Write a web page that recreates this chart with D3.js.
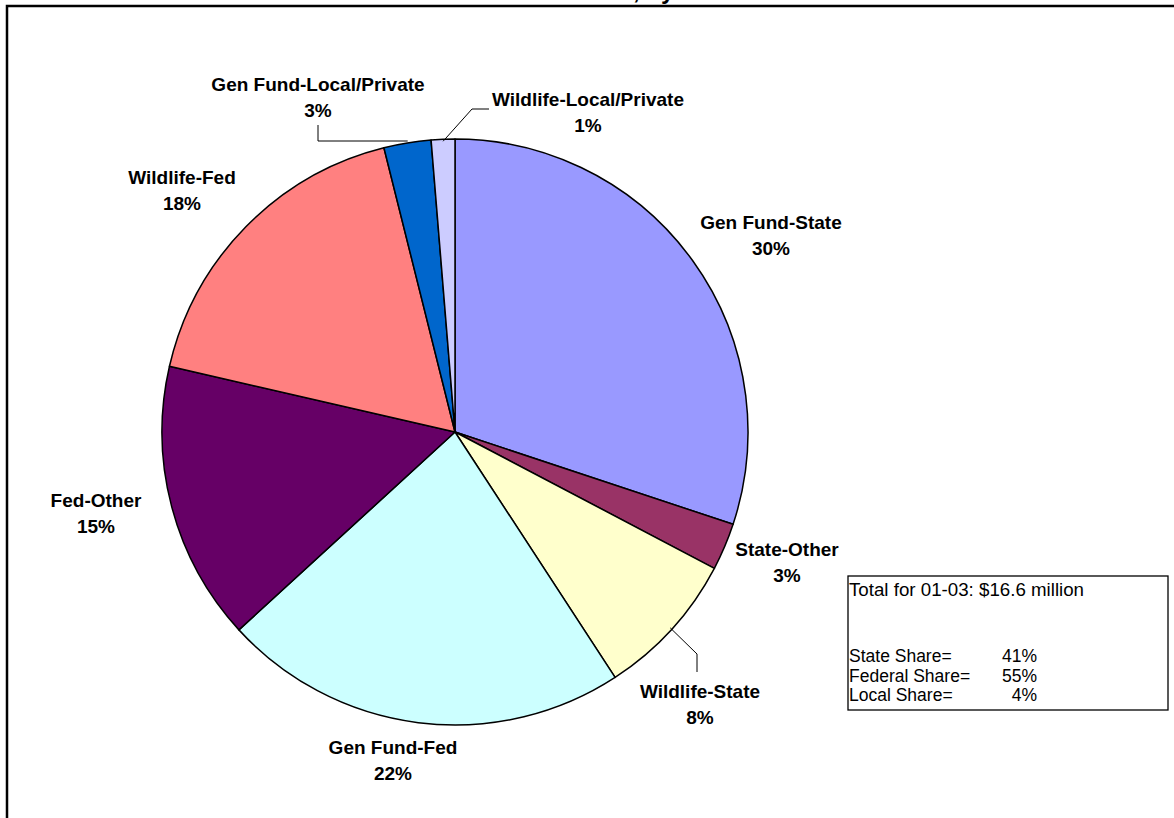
<!DOCTYPE html>
<html>
<head>
<meta charset="utf-8">
<script src="https://cdn.jsdelivr.net/npm/d3@7"></script>
<style>
  html, body { margin: 0; padding: 0; background: #fff; }
  svg { display: block; font-family: Arial, "Liberation Sans", sans-serif; }
</style>
</head>
<body>
<svg id="chart" width="1174" height="818"></svg>
<script>
// Fund sources, clockwise from 12 o'clock
const categories = [
  "Gen Fund-State", "State-Other", "Wildlife-State", "Gen Fund-Fed",
  "Fed-Other", "Wildlife-Fed", "Gen Fund-Local/Private", "Wildlife-Local/Private"
];
const shares = [30.1, 2.6, 8.1, 22.4, 15.4, 17.5, 2.6, 1.3];
const sliceColors = ["#9999FF", "#993366", "#FFFFCC", "#CCFFFF", "#660066", "#FF8080", "#0066CC", "#CCCCFF"];
const groupOf = ["State", "State", "State", "Federal", "Federal", "Federal", "Local", "Local"];
const groupNames = ["State", "Federal", "Local"];
const totalText = "Total for 01-03: $16.6 million";

const svg = d3.select("#chart");
const W = 1174, H = 818;
const cx = 455, cy = 432, R = 293;

// chart frame (top and left edges visible)
svg.append("path")
  .attr("d", `M7,${H} L7,6 L${W},6`)
  .attr("fill", "none").attr("stroke", "#000").attr("stroke-width", 2.5);

// title sits above the frame; only its lower part shows
svg.append("text").attr("x", 633).attr("y", -1)
  .attr("font-size", 24).attr("font-weight", "bold").text(", by");

const total = d3.sum(shares);
const pct = v => Math.round(v / total * 100) + "%";

const pie = d3.pie().sort(null).value(d => d.v).startAngle(0).endAngle(2 * Math.PI);
const arcs = pie(categories.map((c, i) => ({ c, v: shares[i], i })));
const arc = d3.arc().innerRadius(0).outerRadius(R);

const g = svg.append("g").attr("transform", `translate(${cx},${cy})`);
g.selectAll("path.slice").data(arcs).join("path")
  .attr("class", "slice")
  .attr("d", arc)
  .attr("fill", d => sliceColors[d.data.i])
  .attr("stroke", "#000").attr("stroke-width", 1.5).attr("stroke-linejoin", "round");

// label placement (page coordinates of each label's first baseline)
const labelPos = [
  [771, 229], [787, 556], [700, 698], [393, 754],
  [96, 507], [182, 184], [318, 91], [588, 106]
];
const lineGap = 25.5;

const lbl = svg.append("g").attr("font-size", 19).attr("font-weight", "bold")
  .attr("text-anchor", "middle").attr("fill", "#000");
arcs.forEach((d, k) => {
  const [x, y] = labelPos[k];
  const t = lbl.append("text").attr("x", x).attr("y", y);
  t.append("tspan").attr("x", x).attr("dy", 0).text(d.data.c);
  t.append("tspan").attr("x", x).attr("dy", lineGap).text(pct(d.data.v));
});

// leader lines from labels to their slices
const pointOn = (d, r) => {
  const a = (d.startAngle + d.endAngle) / 2;
  return [cx + r * Math.sin(a), cy - r * Math.cos(a)];
};
const leaders = [
  { k: 6, pts: [[318, 125], [318, 141]] },
  { k: 7, pts: [[489, 109], [472, 109]] },
  { k: 2, pts: [[697, 672], [697, 654]] }
];
const line = d3.line();
leaders.forEach(L => {
  const end = pointOn(arcs[L.k], R - 2);
  const pts = L.pts.slice();
  if (L.k === 6) pts.push([end[0], pts[1][1]]);
  else pts.push(end);
  svg.append("path").attr("d", line(pts))
    .attr("fill", "none").attr("stroke", "#000").attr("stroke-width", 1);
});

// summary box
const bx = 848, by = 576, bw = 320, bh = 134;
svg.append("rect").attr("x", bx).attr("y", by).attr("width", bw).attr("height", bh)
  .attr("fill", "#fff").attr("stroke", "#000").attr("stroke-width", 1.3);
const box = svg.append("g").attr("font-size", 17.5).attr("fill", "#000");
box.append("text").attr("x", bx + 1).attr("y", by + 20).attr("textLength", 235)
  .attr("lengthAdjust", "spacingAndGlyphs").text(totalText);
const groupTotals = groupNames.map(n => d3.sum(shares.filter((v, i) => groupOf[i] === n)));
const shareLabels = groupNames.map(n => n + " Share=");
shareLabels.forEach((s, j) => {
  const y = by + 86 + j * 19.5;
  box.append("text").attr("x", bx + 1).attr("y", y).text(s);
  box.append("text").attr("x", 1037).attr("y", y).attr("text-anchor", "end").text(pct(groupTotals[j]));
});
</script>
</body>
</html>
